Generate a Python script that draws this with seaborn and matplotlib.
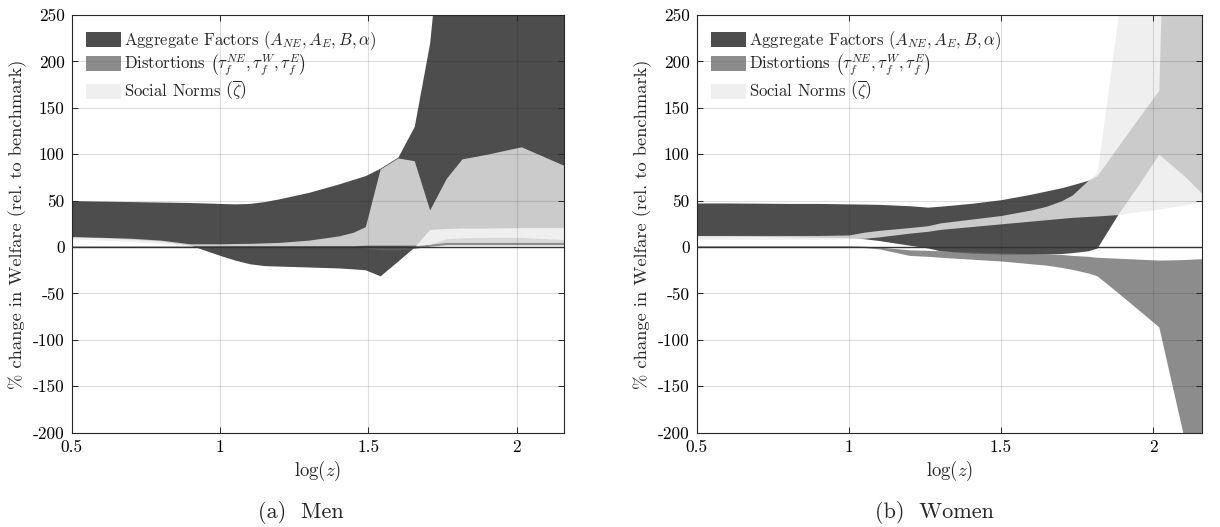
import matplotlib
matplotlib.use("Agg")
import matplotlib.pyplot as plt
import seaborn as sns
from matplotlib.patches import Patch

# ---------------------------------------------------------------- men
men_x = [0.50, 0.60, 0.70, 0.80, 0.90, 1.00, 1.05, 1.10, 1.15, 1.20, 1.30, 1.40,
         1.45, 1.49, 1.54, 1.60, 1.655, 1.707, 1.763, 1.816, 1.90, 2.016, 2.16]
men_agg_lo = [11, 10, 8.5, 6.5, 2, -9, -14, -18, -20, -20.5, -21.5, -22.5,
              -23.5, -24.5, -31, -15, 0, 19, 20, 20.5, 20.5, 21, 21]
men_agg_hi = [50, 49.5, 49, 48.5, 48, 47, 46.5, 47, 49, 52, 59, 68,
              73, 77, 85, 97, 130, 220, 400, 400, 400, 400, 400]
men_dist_lo = [0, 0, 0, 0, 0, 0, 0, 0, 0, 0, 0, 0,
               0, -1, -3, -3, -1.5, 1, 2.5, 2.5, 2.5, 2.5, 2.5]
men_dist_hi = [1.2, 1.2, 1.2, 1.2, 1.2, 1.2, 1.2, 1.2, 1.2, 1.2, 1.2, 1.2,
               1, 0, 0, 0.5, 1.5, 3, 9, 10, 10.5, 10.5, 8]
men_norm_lo = [8.5, 7.5, 6, 4, 1.5, 1.5, 1.5, 1.5, 1.5, 1.5, 1.5, 1.5,
               1.5, 2, 2, 2, 2, 3, 5, 5, 5, 5, 5]
men_norm_hi = [11, 10.5, 9.5, 7.5, 3.5, 3.5, 3.8, 4, 4.5, 5, 7.5, 12,
               16, 22, 84, 96, 93, 40, 74, 95, 100, 108, 88]

# -------------------------------------------------------------- women
women_x = [0.50, 0.60, 0.70, 0.80, 0.90, 1.00, 1.05, 1.10, 1.20, 1.26, 1.30, 1.40,
           1.50, 1.60, 1.65, 1.70, 1.734, 1.787, 1.816, 1.884, 1.95, 2.019, 2.03,
           2.098, 2.16]
women_agg_lo = [12, 12, 11.5, 11, 10.5, 10, 9, 7, 2, -1, -4, -6.5,
                -7.5, -7.5, -7.5, -7, -6, -4, -1, 35, 66, 100, 97,
                78, 58]
women_agg_hi = [47.5, 47.5, 47.3, 47, 47, 46.5, 46.3, 46, 44.5, 43, 44, 47,
                51, 57, 60.5, 64, 67, 72, 77, 108, 138, 169, 300,
                400, 400]
women_dist_lo = [0, 0, 0, 0, 0, 0, -0.5, -2, -9, -10, -11, -13,
                 -15, -18, -19.5, -22, -24, -28, -31, -49, -67, -86, -102,
                 -200, -293]
women_dist_hi = [1.5, 1.5, 1.5, 1.5, 1.5, 1.5, 1, 0, -3, -3.5, -4, -5,
                 -6, -7, -7.5, -8, -9, -10, -11, -12, -13, -14, -14,
                 -13.5, -12.5]
women_norm_lo = [8.5, 8.5, 8.5, 8.5, 8.5, 9, 9.5, 11, 15, 17, 19, 22,
                 25, 28, 29.5, 31, 32, 33, 33.5, 35, 38, 41, 41.5,
                 45, 49]
women_norm_hi = [12.5, 12.5, 12.5, 12.5, 12.5, 13, 16, 18, 21, 23, 26, 30,
                 34, 40, 44, 50, 56, 72, 80, 245, 500, 500, 500,
                 500, 500]

x_ticks = [0.5, 1, 1.5, 2]
x_tick_labels = ["0.5", "1", "1.5", "2"]
y_ticks = [-200, -150, -100, -50, 0, 50, 100, 150, 200, 250]
y_tick_labels = ["-200", "-150", "-100", "-50", "0", "50", "100", "150", "200", "250"]

legend_labels = [
    r"Aggregate Factors $(A_{NE}, A_E, B, \alpha)$",
    r"Distortions $\left(\tau_f^{NE}, \tau_f^{W}, \tau_f^{E}\right)$",
    r"Social Norms $\left(\overline{\zeta}\right)$",
]
captions = ["(a)  Men", "(b)  Women"]

sns.set_theme(style="white")
plt.rcParams.update({
    "font.family": ["cmr10"],
    "mathtext.fontset": "cm",
    "axes.unicode_minus": False,
    "axes.formatter.use_mathtext": True,
})

AGG = dict(color="#4d4d4d", alpha=1.0)
DIST = dict(color="#646464", alpha=0.74)
NORM = dict(color="#ececec", alpha=0.8)

fig = plt.figure(figsize=(12.2, 5.27), dpi=100)
W, H = 1220, 527
ax_men = fig.add_axes([71.7 / W, 1 - 432.7 / H, (564 - 71.7) / W, 417.7 / H])
ax_women = fig.add_axes([696.7 / W, 1 - 432.7 / H, 505 / W, 417.7 / H])

panels = [
    (ax_men, men_x, men_agg_lo, men_agg_hi, men_dist_lo, men_dist_hi, men_norm_lo, men_norm_hi),
    (ax_women, women_x, women_agg_lo, women_agg_hi, women_dist_lo, women_dist_hi,
     women_norm_lo, women_norm_hi),
]

for ax, x, a_lo, a_hi, d_lo, d_hi, n_lo, n_hi in panels:
    ax.fill_between(x, a_lo, a_hi, linewidth=0, zorder=1, **AGG)
    ax.fill_between(x, d_lo, d_hi, linewidth=0, zorder=1.1, **DIST)
    ax.fill_between(x, n_lo, n_hi, linewidth=0, zorder=1.2, **NORM)
    ax.axhline(0, color="#333333", linewidth=1.0, zorder=3)

    ax.set_xlim(0.5, 2.16)
    ax.set_ylim(-200, 250)
    ax.set_xticks(x_ticks, labels=x_tick_labels)
    ax.set_yticks(y_ticks, labels=y_tick_labels)
    ax.set_axisbelow(False)
    ax.grid(True, color=(0.15, 0.15, 0.15), alpha=0.15, linewidth=0.8)
    ax.tick_params(direction="in", length=4, width=0.7, colors="#262626",
                   labelcolor="black", labelsize=12.5, bottom=True, left=True,
                   top=True, right=True, pad=5)
    for s in ax.spines.values():
        s.set_color("#262626")
        s.set_linewidth(0.8)
    ax.set_xlabel(r"$\log(z)$", fontsize=13.5, labelpad=3)
    ax.set_ylabel("% change in Welfare (rel. to benchmark)", fontsize=13.3, labelpad=4)

    handles = [Patch(linewidth=0, **AGG), Patch(linewidth=0, **DIST), Patch(linewidth=0, **NORM)]
    ax.legend(handles, legend_labels, loc="upper left", frameon=False, fontsize=12,
              handlelength=2.1, handleheight=1.0, handletextpad=0.2,
              labelspacing=0.05, borderaxespad=0.5, borderpad=0.35)

fig.text(301 / W, 1 - 512 / H, captions[0], ha="center", va="center", fontsize=16)
fig.text(934 / W, 1 - 512 / H, captions[1], ha="center", va="center", fontsize=16)

fig.savefig("out.png", dpi=100)
